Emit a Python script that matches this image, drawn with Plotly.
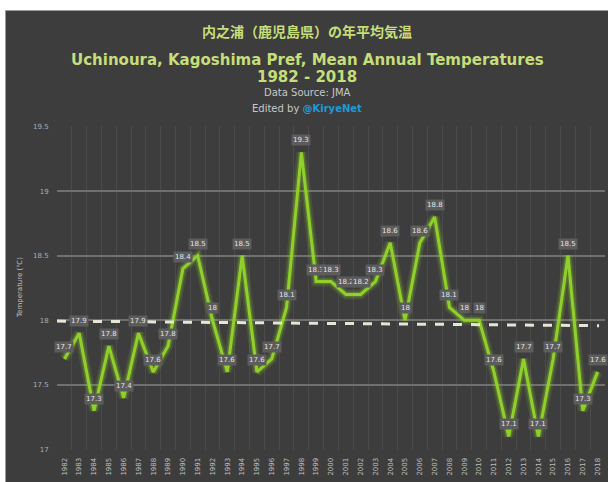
import numpy as np
import plotly.graph_objects as go

years = list(range(1982, 2019))
temps = [17.7, 17.9, 17.3, 17.8, 17.4, 17.9, 17.6, 17.8, 18.4, 18.5,
         18.0, 17.6, 18.5, 17.6, 17.7, 18.1, 19.3, 18.3, 18.3, 18.2,
         18.2, 18.3, 18.6, 18.0, 18.6, 18.8, 18.1, 18.0, 18.0, 17.6,
         17.1, 17.7, 17.1, 17.7, 18.5, 17.3, 17.6]
year_labels = [str(y) for y in years]
y_ticks = [17, 17.5, 18, 18.5, 19, 19.5]
y_tick_text = ["17", "17.5", "18", "18.5", "19", "19.5"]

BG = "#3d3d3d"
GREEN = "#8fd12a"
TITLE_C = "#c6de7a"

W, H = 608, 482
L, R, T, B = 57, 3, 126, 32
PW, PH = W - L - R, H - T - B

def py(p):  # pixel y -> paper
    return (H - B - p) / PH

def px(p):  # pixel x -> paper
    return (p - L) / PW

idx = list(range(len(temps)))

fig = go.Figure()

# glow layers
fig.add_trace(go.Scatter(x=idx, y=temps, mode="lines",
                         line=dict(color="rgba(143,209,42,0.13)", width=10),
                         hoverinfo="skip", showlegend=False))
fig.add_trace(go.Scatter(x=idx, y=temps, mode="lines",
                         line=dict(color="rgba(143,209,42,0.28)", width=6),
                         hoverinfo="skip", showlegend=False))
fig.add_trace(go.Scatter(x=idx, y=temps, mode="lines",
                         line=dict(color=GREEN, width=3),
                         showlegend=False))

# trend line (least squares fit)
slope, icpt = np.polyfit(idx, temps, 1)
x0, x1 = -0.5, len(temps) - 1 + 0.1
fig.add_shape(type="line", xref="x", yref="y",
              x0=x0, x1=x1, y0=icpt + slope * x0, y1=icpt + slope * x1,
              line=dict(color="#e6e6d6", width=3, dash="dash"), layer="above")

# data labels
for i, t in zip(idx, temps):
    txt = str(int(t)) if t == int(t) else "%.1f" % t
    fig.add_annotation(x=i, y=t, xref="x", yref="y", text=txt,
                       showarrow=False, yshift=12,
                       font=dict(family="DejaVu Sans", size=7, color="#e4e4e4"),
                       bgcolor="#5c5c5c", borderpad=1)

# white outer strips
fig.add_shape(type="rect", xref="paper", yref="paper",
              x0=px(0), x1=px(W), y0=py(10.5), y1=py(0), fillcolor="white",
              line=dict(width=0), layer="below")
fig.add_shape(type="rect", xref="paper", yref="paper",
              x0=px(0), x1=px(5.5), y0=py(H), y1=py(0), fillcolor="white",
              line=dict(width=0), layer="below")
fig.add_shape(type="line", xref="paper", yref="paper",
              x0=px(5.5), x1=px(5.5), y0=py(H), y1=py(10.5),
              line=dict(color="#9a9a9a", width=1), layer="below")
fig.add_shape(type="line", xref="paper", yref="paper",
              x0=px(5.5), x1=px(W), y0=py(10.5), y1=py(10.5),
              line=dict(color="#9a9a9a", width=1), layer="below")

cx = px(307)
def title_ann(text, ypix, size, family="DejaVu Sans", color=TITLE_C):
    fig.add_annotation(x=cx, y=py(ypix), xref="paper", yref="paper",
                       xanchor="center", yanchor="middle", showarrow=False,
                       text=text, font=dict(family=family, size=size, color=color))

title_ann("<b>内之浦（鹿児島県）の年平均気温</b>", 31, 14, family="Noto Sans CJK JP")
title_ann("<b>Uchinoura, Kagoshima Pref, Mean Annual Temperatures</b>", 60, 15)
title_ann("<b>1982 - 2018</b>", 77, 15)
title_ann("Data Source: JMA", 92.5, 10, color="#c8c8c8")
title_ann("Edited by <span style='color:#1f9ad6'><b>@KiryeNet</b></span>", 108, 10,
          color="#c8c8c8")
fig.add_annotation(x=px(20), y=py(288), xref="paper", yref="paper", showarrow=False,
                   xanchor="center", yanchor="middle",
                   text="Temperature (℃)", textangle=-90,
                   font=dict(family="DejaVu Sans", size=7, color="#c0c0c0"))

fig.update_layout(
    width=W, height=H,
    margin=dict(l=L, r=R, t=T, b=B, pad=0),
    paper_bgcolor=BG, plot_bgcolor=BG,
    showlegend=False,
    xaxis=dict(type="linear", range=[-0.5, len(temps) - 0.5],
               tickmode="array", tickvals=idx, ticktext=year_labels,
               tickangle=-90, showgrid=False,
               minor=dict(tickmode="linear", tick0=-0.5, dtick=1, showgrid=True,
                          gridcolor="#4b4b4b", gridwidth=1, ticks=""),
               ticks="outside", ticklen=4, tickcolor="rgba(0,0,0,0)",
               tickfont=dict(family="DejaVu Sans", size=7, color="#bdbdbd"),
               showline=False, zeroline=False, fixedrange=True),
    yaxis=dict(range=[16.995, 19.505], tickvals=y_ticks, ticktext=y_tick_text,
               showgrid=True, gridcolor="#707070", gridwidth=2,
               ticks="outside", ticklen=6, tickcolor="rgba(0,0,0,0)",
               tickfont=dict(family="DejaVu Sans", size=7, color="#b0b0b0"),
               showline=False, zeroline=False, fixedrange=True),
)

fig.write_html("out.html", config={"displayModeBar": False},
               post_script="document.body.style.margin='0';")
